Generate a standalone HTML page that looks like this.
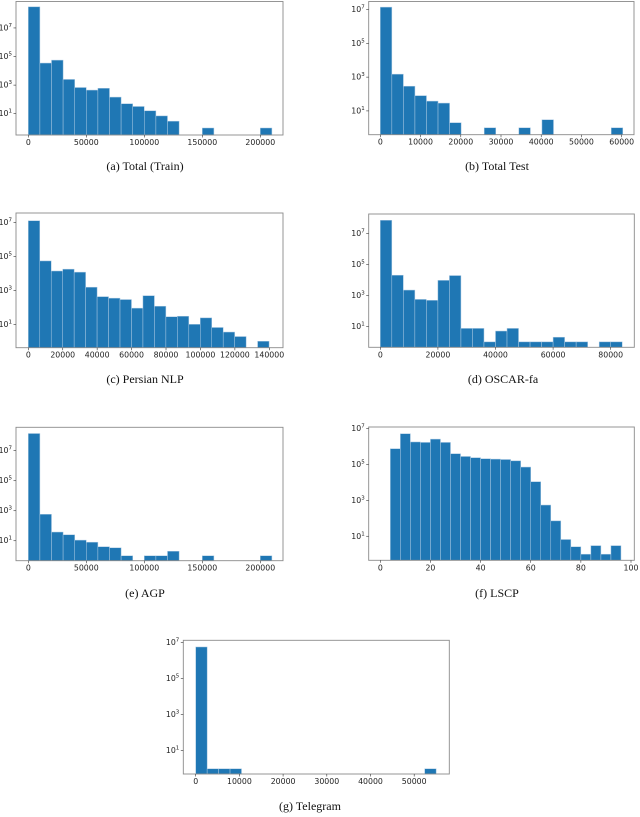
<!DOCTYPE html>
<html><head><meta charset="utf-8"><style>
body{margin:0;background:#fff;}
svg{display:block;}
.tk{font-family:"DejaVu Sans","Liberation Sans",sans-serif;font-size:7.8px;fill:#222;}
.cap{font-family:"Liberation Serif",serif;font-size:12px;fill:#111;}
</style></head><body>
<svg id="fig" width="640" height="817" viewBox="0 0 640 817" xmlns="http://www.w3.org/2000/svg"></svg>
<script>
// ---- data ----
const countsA = [3e8,3.5e4,5.6e4,2500,680,450,600,145,50,32,16,7,3,0,0,1,0,0,0,0,1];
const xTicksA = [0,50000,100000,150000,200000];
const countsB = [1.4e7,1500,290,80,38,29,2,0,0,1,0,0,1,0,3,0,0,0,0,0,1];
const xTicksB = [0,10000,20000,30000,40000,50000,60000];
const countsC = [1.3e7,5.5e4,1.4e4,1.8e4,1.2e4,1550,430,350,290,90,490,117,28,30,10,24,6.5,3.5,1.9,0,1];
const xTicksC = [0,20000,40000,60000,80000,100000,120000,140000];
const countsD = [7e7,2e4,2200,550,480,9300,1.9e4,7.4,7.4,1,5,7.4,1,1,1,2,1,1,0,1,1];
const xTicksD = [0,20000,40000,60000,80000];
const countsE = [1.4e8,580,38,25,11,8,4,3.4,1,0,1,1,2,0,0,1,0,0,0,0,1];
const xTicksE = [0,50000,100000,150000,200000];
const countsF = [7.6e5,5.2e6,1.8e6,1.7e6,2.6e6,1.7e6,4e5,2.8e5,2.4e5,2.1e5,2e5,1.9e5,1.6e5,7.2e4,1.1e4,550,72,6.6,2.6,1,3,1,3];
const xTicksF = [0,20,40,60,80,100];
const countsG = [5.5e6,1,1,1,0,0,0,0,0,0,0,0,0,0,0,0,0,0,0,0,1];
const xTicksG = [0,10000,20000,30000,40000,50000];
const yTickExps = [1,3,5,7];

// ---- layout (not data) ----
const layouts = [
 {id:'a',cap:'(a)  Total (Train)',L:16,R:283,T:1.5,B:135,lmin:-0.49,lmax:8.85,x0:28.3,k:116/100000,bs:0,bw:10000,counts:countsA,ticks:xTicksA,capX:145,capY:174},
 {id:'b',cap:'(b)  Total Test',L:368.7,R:634,T:1.5,B:134.7,lmin:-0.41,lmax:7.48,x0:380.3,k:241.4/60000,bs:0,bw:2870,counts:countsB,ticks:xTicksB,capX:497,capY:174},
 {id:'c',cap:'(c)  Persian NLP',L:16,R:283,T:213,B:347.7,lmin:-0.38,lmax:7.57,x0:28.3,k:241/140000,bs:0,bw:6660,counts:countsC,ticks:xTicksC,capX:145,capY:387},
 {id:'d',cap:'(d)  OSCAR-fa',L:368.7,R:634.3,T:214,B:347.3,lmin:-0.35,lmax:8.25,x0:380.3,k:230.4/80000,bs:0,bw:4000,counts:countsD,ticks:xTicksD,capX:503,capY:387},
 {id:'e',cap:'(e)  AGP',L:16,R:283,T:427.3,B:560.7,lmin:-0.33,lmax:8.56,x0:28.3,k:116/100000,bs:0,bw:10000,counts:countsE,ticks:xTicksE,capX:145,capY:601},
 {id:'f',cap:'(f)  LSCP',L:368.7,R:634.3,T:427,B:560.3,lmin:-0.34,lmax:7.09,x0:380.3,k:2.507,bs:4,bw:4,counts:countsF,ticks:xTicksF,capX:497,capY:601},
 {id:'g',cap:'(g)  Telegram',L:183.3,R:449.3,T:640.3,B:774,lmin:-0.29,lmax:7.11,x0:195.7,k:43.7/10000,bs:0,bw:2620,counts:countsG,ticks:xTicksG,capX:310,capY:814}
];
const NS='http://www.w3.org/2000/svg';
const svg=document.getElementById('fig');
function mk(tag,attrs,parent){const e=document.createElementNS(NS,tag);for(const k in attrs)e.setAttribute(k,attrs[k]);(parent||svg).appendChild(e);return e;}

layouts.forEach(p=>{
  const g=mk('g',{});
  
  
  const xs=v=>p.x0+v*p.k;
  const ys=v=>p.B-(Math.log10(v)-p.lmin)/(p.lmax-p.lmin)*(p.B-p.T);
  p.counts.forEach((c,i)=>{
    if(c<=0)return;
    const x1=xs(p.bs+i*p.bw),x2=xs(p.bs+(i+1)*p.bw),y=ys(c);
    const r=mk('rect',{x:x1,y:y,width:x2-x1,height:p.B-y,fill:'#1f77b4',stroke:'#a9c8e2','stroke-width':0.5},g);
    
    
  });
  const box=mk('rect',{x:p.L,y:p.T,width:p.R-p.L,height:p.B-p.T,fill:'none',stroke:'#8a8a8a','stroke-width':0.9},g);
  
  
  p.ticks.forEach(t=>{
    const x=xs(t);
    mk('line',{x1:x,x2:x,y1:p.B,y2:p.B+2.5,stroke:'#333','stroke-width':0.6},g);
    const tx=mk('text',{x:x,y:p.B+10,'text-anchor':'middle',class:'tk'},g);
    tx.textContent=String(t);
    
    
  });
  yTickExps.forEach(e=>{
    const y=ys(Math.pow(10,e));
    mk('line',{x1:p.L-2.5,x2:p.L,y1:y,y2:y,stroke:'#333','stroke-width':0.6},g);
    const tx=mk('text',{x:p.L-4,y:y+2.5,'text-anchor':'end',class:'tk'},g);
    
    
    const a=mk('tspan',{},tx);a.textContent='10';
    const b=mk('tspan',{dy:-3.5,'font-size':'5.5px'},tx);b.textContent=String(e);
  });
  const cap=mk('text',{x:p.capX,y:p.capY-4,'text-anchor':'middle',class:'cap'},g);
  cap.textContent=p.cap;
  
  
});
</script>
</body></html>
